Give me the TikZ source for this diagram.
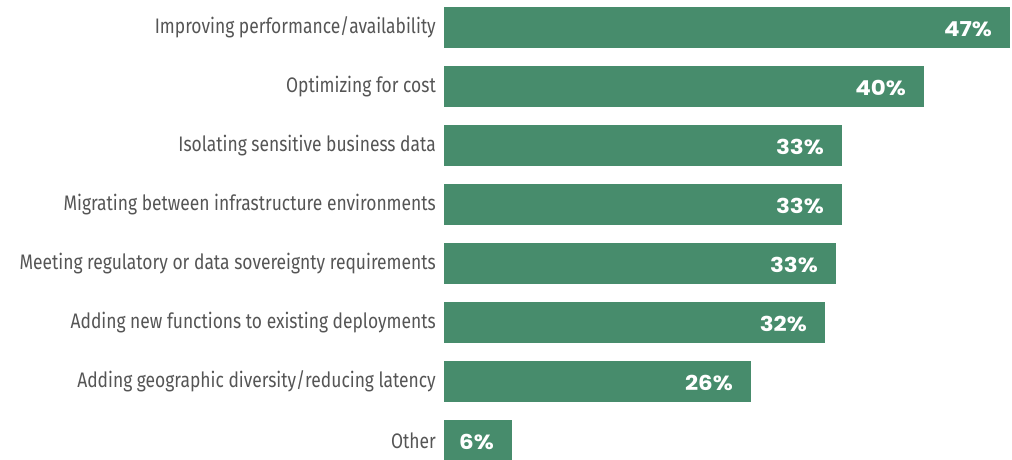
\documentclass[tikz,border=0pt]{standalone}
\usepackage{fontspec}
\setmainfont{Fira Sans}
\newfontfamily\labfont[FakeStretch=0.83]{Fira Sans}
\newfontfamily\valfont[FakeStretch=1.12]{Poppins}
\definecolor{barcol}{HTML}{478C6C}
\definecolor{labcol}{HTML}{555555}
\tikzset{
  barbox/.style={fill=barcol, draw=none},
  lab/.style={anchor=east, text=labcol, font=\labfont\fontsize{21}{24}\selectfont, inner sep=0pt},
  val/.style={anchor=east, text=white, font=\valfont\bfseries\fontsize{20.5}{24}\selectfont, inner sep=0pt}
}
\begin{document}
\begin{tikzpicture}[x=1pt,y=-1pt]
\useasboundingbox (0,0) rectangle (1012,460);
\foreach \i/\e/\t/\v in {
 0/1010/Improving performance\slash availability/47\%,
 1/924/Optimizing for cost/40\%,
 2/842/Isolating sensitive business data/33\%,
 3/842/Migrating between infrastructure environments/33\%,
 4/836/Meeting regulatory or data sovereignty requirements/33\%,
 5/825/Adding new functions to existing deployments/32\%,
 6/751/Adding geographic diversity\slash reducing latency/26\%,
 7/512/Other/6\%}{
  \pgfmathsetmacro{\top}{7+59*\i}
  \path[barbox] (444,\top) rectangle (\e,\top+41);
  \node[lab] (l\i) at (436,\top+20.5) {\t};
  \node[val] (v\i) at (\e-18,\top+22) {\v};
}
\end{tikzpicture}
\end{document}
